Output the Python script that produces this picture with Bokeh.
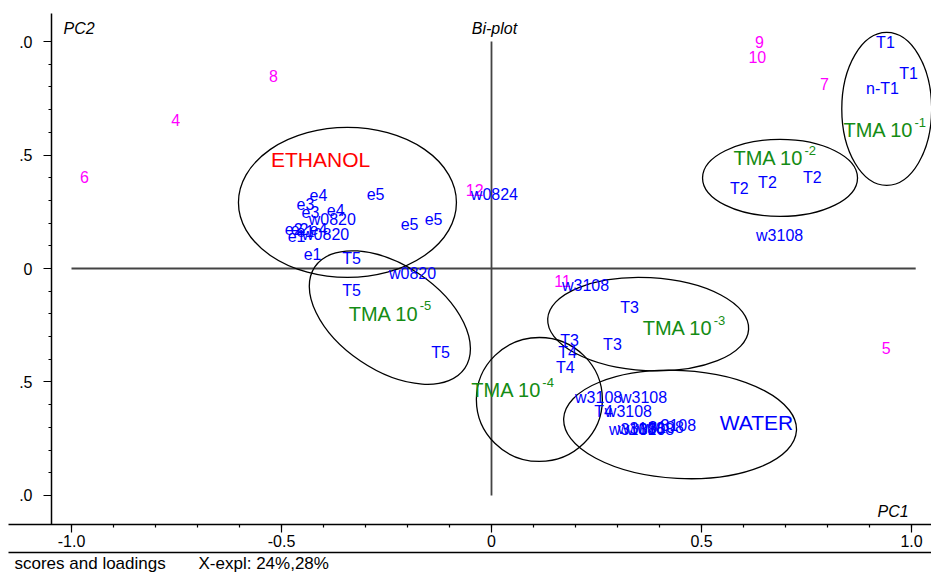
import math
from bokeh.plotting import figure
from bokeh.models import Range1d, FixedTicker, Label, ColumnDataSource
from bokeh.core.properties import value
from bokeh.embed import file_html
from bokeh.resources import INLINE

FONT = "Liberation Sans"

# ---- scores (blue sample labels) ----
score_labels = ["e4", "e5", "e3", "e3", "e4", "w0820", "e5", "e5",
                "e2", "e2", "e1", "e4", "e1", "w0820", "e1",
                "T5", "T5", "w0820", "T5", "w0824",
                "w3108", "T3", "T3", "T4", "T3", "T4",
                "w3108", "w3108", "T4", "w3108",
                "w3108", "w3108", "w3108", "w3108", "w3108",
                "T2", "T2", "T2", "w3108", "T1", "T1", "n-T1"]
score_x = [-0.412, -0.276, -0.443, -0.431, -0.371, -0.379, -0.195, -0.138,
           -0.471, -0.457, -0.443, -0.412, -0.464, -0.395, -0.426,
           -0.333, -0.333, -0.188, -0.121, 0.007,
           0.224, 0.329, 0.186, 0.181, 0.288, 0.176,
           0.255, 0.362, 0.267, 0.326,
           0.336, 0.357, 0.379, 0.402, 0.431,
           0.590, 0.657, 0.764, 0.686, 0.938, 0.993, 0.931]
score_y = [0.322, 0.326, 0.286, 0.251, 0.256, 0.216, 0.194, 0.216,
           0.172, 0.176, 0.167, 0.172, 0.145, 0.150, 0.062,
           0.044, -0.097, -0.022, -0.370, 0.326,
           -0.075, -0.172, -0.317, -0.370, -0.335, -0.436,
           -0.568, -0.568, -0.630, -0.630,
           -0.709, -0.705, -0.709, -0.700, -0.692,
           0.352, 0.379, 0.401, 0.145, 0.996, 0.859, 0.793]

# ---- loadings (magenta variable numbers) ----
loading_labels = ["4", "6", "8", "12", "11", "9", "10", "7", "5"]
loading_x = [-0.752, -0.969, -0.519, -0.040, 0.169, 0.638, 0.633, 0.793, 0.940]
loading_y = [0.652, 0.405, 0.850, 0.348, -0.053, 0.996, 0.930, 0.811, -0.352]

# ---- group labels (green) ----
group_base = ["TMA 10", "TMA 10", "TMA 10", "TMA 10", "TMA 10"]
group_exp = ["-1", "-2", "-3", "-4", "-5"]
group_x = [0.838, 0.576, 0.360, -0.048, -0.340]
group_y = [0.608, 0.485, -0.264, -0.537, -0.200]

other_labels = ["ETHANOL", "WATER"]
other_x = [-0.407, 0.631]
other_y = [0.480, -0.678]
other_colors = ["#ff0000", "#0000ff"]

# ---- group ellipses ----
ell_x = [-0.343, -0.242, 0.114, 0.373, 0.449, 0.687, 0.941]
ell_y = [0.291, -0.216, -0.577, -0.245, -0.687, 0.399, 0.703]
ell_w = [0.519, 0.431, 0.300, 0.479, 0.555, 0.369, 0.214]
ell_h = [0.661, 0.463, 0.546, 0.410, 0.476, 0.339, 0.674]
ell_angle_deg = [0, -34, 0, -3, -3, 0, 0]

# ---- ticks ----
x_ticks = [-1.0, -0.5, 0.0, 0.5, 1.0]
x_tick_labels = ["-1.0", "-0.5", "0", "0.5", "1.0"]
y_ticks = [-1.0, -0.5, 0.0, 0.5, 1.0]
y_tick_labels = [".0", ".5", "0", ".5", ".0"]
minor_ticks = [round(-1.0 + 0.1 * i, 1) for i in range(21)]
AXIS_LIMIT = 1.0

# ---- layout (data-space extents of the drawing area) ----
X_START, X_END = -1.16905, 1.04762
Y_START, Y_END = -1.34802, 1.18062
Y_AXIS_AT = -1.04762          # x where the PC2 axis sits
X_AXIS_AT = -1.1278           # y where the PC1 axis sits
X_AXIS_FROM = -1.15
Y_AXIS_TOP = 1.1233
FOOTER_LINE_Y = -1.2511
FOOTER_TEXT_Y = -1.2996

p = figure(width=931, height=574,
           x_range=Range1d(X_START, X_END), y_range=Range1d(Y_START, Y_END),
           output_backend="svg", toolbar_location=None,
           min_border_left=0, min_border_right=0, min_border_top=0, min_border_bottom=0)
p.xgrid.visible = False
p.ygrid.visible = False
p.outline_line_color = None
p.background_fill_color = "white"

for ax, ticks, labels, standoff, loc, bounds in (
        (p.xaxis[0], x_ticks, x_tick_labels, 2, X_AXIS_AT, (X_AXIS_FROM, X_END)),
        (p.yaxis[0], y_ticks, y_tick_labels, 11, Y_AXIS_AT, (X_AXIS_AT, Y_AXIS_TOP))):
    ax.fixed_location = loc
    ax.bounds = bounds
    ax.ticker = FixedTicker(ticks=ticks, minor_ticks=minor_ticks)
    ax.major_label_overrides = {t: l for t, l in zip(ticks, labels)}
    ax.major_tick_out = 8
    ax.major_tick_in = 0
    ax.minor_tick_out = 3
    ax.minor_tick_in = 0
    ax.axis_line_width = 1.5
    ax.major_tick_line_width = 1.2
    ax.minor_tick_line_width = 1.2
    ax.axis_line_color = "black"
    ax.major_label_standoff = standoff
    ax.major_label_text_font = FONT
    ax.major_label_text_font_size = "16px"
    ax.major_label_text_color = "black"

# footer separator line
p.segment(x0=[X_AXIS_FROM], y0=[FOOTER_LINE_Y], x1=[X_END], y1=[FOOTER_LINE_Y],
          line_color="black", line_width=1.5)

# crosshair through origin
p.segment(x0=[-AXIS_LIMIT, 0.0], y0=[0.0, -AXIS_LIMIT], x1=[AXIS_LIMIT + 0.01, 0.0], y1=[0.0, AXIS_LIMIT],
          line_color="#444444", line_width=1.8)

# ellipses
p.ellipse(x=ell_x, y=ell_y, width=ell_w, height=ell_h,
          angle=[math.radians(a) for a in ell_angle_deg],
          fill_color=None, line_color="black", line_width=1.3)

# loadings
p.text(x="x", y="y", text="t",
       source=ColumnDataSource(dict(x=loading_x, y=loading_y, t=loading_labels)),
       text_font=value(FONT), text_font_size="16px", text_color="#ff00ff",
       text_align="center", text_baseline="middle")

# scores
p.text(x="x", y="y", text="t",
       source=ColumnDataSource(dict(x=score_x, y=score_y, t=score_labels)),
       text_font=value(FONT), text_font_size="16px", text_color="#0000ff",
       text_align="center", text_baseline="middle")

# group labels with superscripts
gsrc = ColumnDataSource(dict(x=group_x, y=group_y, t=group_base, e=group_exp))
p.text(x="x", y="y", text="t", source=gsrc,
       text_font=value(FONT), text_font_size="20px", text_color="#148c14",
       text_align="left", text_baseline="middle")
p.text(x="x", y="y", text="e", source=gsrc, x_offset=71, y_offset=-8,
       text_font=value(FONT), text_font_size="13px", text_color="#148c14",
       text_align="left", text_baseline="middle")

p.text(x="x", y="y", text="t", text_color="c",
       source=ColumnDataSource(dict(x=other_x, y=other_y, t=other_labels, c=other_colors)),
       text_font=value(FONT), text_font_size="21px",
       text_align="center", text_baseline="middle")

# corner labels
for txt, x, y, align in (("PC2", -1.019, 1.057, "left"), ("Bi-plot", 0.007, 1.057, "center"),
                         ("PC1", 0.919, -1.070, "left")):
    p.add_layout(Label(x=x, y=y, text=txt, text_font=FONT, text_font_size="16px",
                       text_font_style="italic", text_align=align, text_baseline="middle",
                       text_color="black"))

# footer texts
for txt, x in (("scores and loadings", -1.1357), ("X-expl: 24%,28%", -0.6976)):
    p.add_layout(Label(x=x, y=FOOTER_TEXT_Y, text=txt, text_font=FONT, text_font_size="17px",
                       text_align="left", text_baseline="middle", text_color="black"))

open("out.html", "w").write(file_html(p, INLINE))
